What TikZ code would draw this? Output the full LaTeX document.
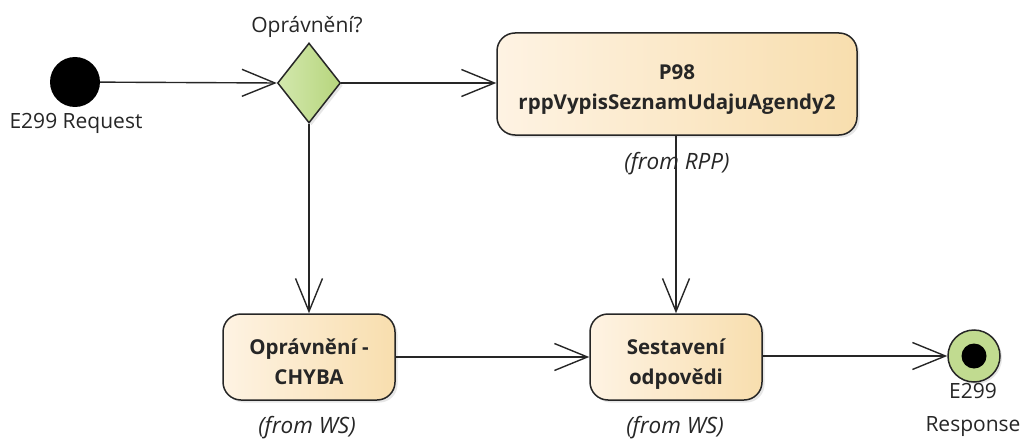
\documentclass[tikz,border=0pt]{standalone}
\usepackage{fontspec}
\setmainfont{Open Sans}
\usetikzlibrary{arrows.meta,shapes.geometric,shadows}
\definecolor{boxL}{HTML}{FEF3E3}
\definecolor{boxR}{HTML}{F8DEAE}
\definecolor{grnL}{HTML}{D3E8AE}
\definecolor{grnR}{HTML}{B6D57C}
\definecolor{txt}{HTML}{262626}
% first argument: extra height on top, which lowers the text by half of it
\newcommand{\twolines}[3]{\begin{tabular}{@{}c@{}}\rule{0pt}{#1}#2\\#3\end{tabular}}
\tikzset{
  every node/.style={text=txt},
  act/.style={draw=black!85, line width=1.5pt, rounded corners=18pt, left color=boxL, right color=boxR,
    drop shadow={opacity=0.2, shadow xshift=2.5pt, shadow yshift=-2.5pt},
    align=center, inner sep=0pt, font=\fontsize{20.5}{30}\selectfont\bfseries},
  lbl/.style={font=\fontsize{21}{33}\selectfont, align=center, inner sep=0pt},
  from/.style={font=\fontsize{22.5}{24}\selectfont\itshape, inner sep=0pt},
  flow/.style={line width=1.4pt, draw=black!85, -{Straight Barb[length=33pt, width=27pt, line width=1.4pt]}},
}
\begin{document}
\begin{tikzpicture}[x=1pt,y=-1pt]
\useasboundingbox (0,0) rectangle (1024,441);
% start
\node (start) [circle, fill=black, minimum size=50pt, inner sep=0pt] at (75,82) {};
\node (startl) [lbl] at (76,123) {E299 Request};
% decision
\node (dec) [diamond, draw=black!85, line width=1.5pt, left color=grnL, right color=grnR,
  minimum width=63pt, minimum height=80pt, inner sep=0pt,
  drop shadow={opacity=0.2, shadow xshift=2.5pt, shadow yshift=-2.5pt}] at (309,83) {};
\node (decl) [lbl] at (307,27) {Oprávnění?};
% P98
\node (p98) [act, minimum width=360pt, minimum height=102pt] at (677,84) {\twolines{31pt}{P98}{rppVypisSeznamUdajuAgendy2}};
\node (p98f) [from] at (677,164) {(from RPP)};
% CHYBA
\node (err) [act, minimum width=172pt, minimum height=86pt] at (309,357) {\twolines{33pt}{Oprávnění -}{CHYBA}};
\node (errf) [from] at (307,428) {(from WS)};
% Sestaveni
\node (sest) [act, minimum width=172pt, minimum height=86pt] at (676,357) {\twolines{33pt}{Sestavení}{odpovědi}};
\node (sestf) [from] at (675,428) {(from WS)};
% end
\node (end) [circle, draw=black!85, line width=1.5pt, fill=grnR!85!white, minimum size=52pt, inner sep=0pt,
  drop shadow={opacity=0.2, shadow xshift=2pt, shadow yshift=-2pt}] at (974,356) {};
\node (enddot) [circle, fill=black, minimum size=25pt, inner sep=0pt] at (end.center) {};
\node (endl) [lbl] at (973,410) {E299\\Response};
% flows
\draw[flow] (start) -- (dec.west);
\draw[flow] (dec.east) -- (p98.west |- dec.east);
\draw[flow] (dec.south) -- (err.north);
\draw[flow] (p98.south -| sest.north) -- (sest.north);
\draw[flow] (err.east) -- (sest.west);
\draw[flow] (sest.east |- end.west) -- (end.west);
\end{tikzpicture}
\end{document}
